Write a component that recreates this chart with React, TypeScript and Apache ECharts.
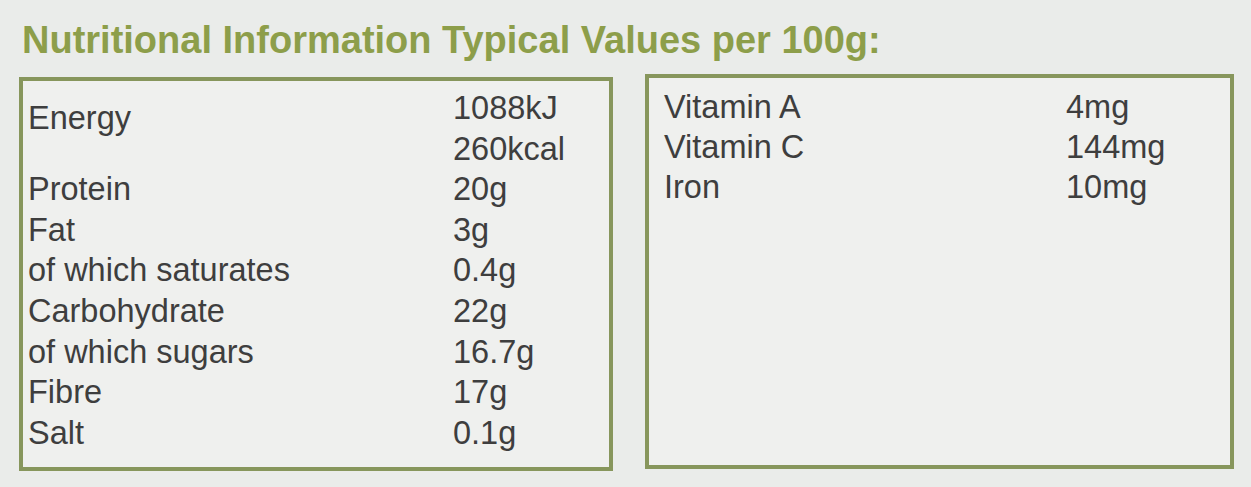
import React, { useEffect, useRef } from "react";
import * as echarts from "echarts";

const titleText = "Nutritional Information Typical Values per 100g:";
const leftLabels = ["Energy", "", "Protein", "Fat", "of which saturates", "Carbohydrate", "of which sugars", "Fibre", "Salt"];
const leftValues = ["1088kJ", "260kcal", "20g", "3g", "0.4g", "22g", "16.7g", "17g", "0.1g"];
const rightLabels = ["Vitamin A", "Vitamin C", "Iron"];
const rightValues = ["4mg", "144mg", "10mg"];

const FONT = '"Liberation Sans", Arial, Helvetica, sans-serif';
const TEXT_COLOR = "#3e3e3e";
const GREEN = "#8d9e4a";
const BORDER = "#87965c";
const SIZE = 32.5;

export default function App() {
  const ref = useRef<HTMLDivElement>(null);
  useEffect(() => {
    if (!ref.current) return;
    const chart = echarts.init(ref.current, null, { renderer: "svg" });
    const elements: any[] = [];

    elements.push({
      type: "text",
      x: 22,
      y: 40,
      style: {
        text: titleText,
        font: `bold 38px ${FONT}`,
        fill: GREEN,
        textVerticalAlign: "middle",
      },
    });

    // boxes
    elements.push({
      type: "rect",
      shape: { x: 21, y: 79, width: 590, height: 390 },
      style: { fill: "#eff0ee", stroke: BORDER, lineWidth: 4 },
    });
    elements.push({
      type: "rect",
      shape: { x: 647, y: 76, width: 585, height: 391 },
      style: { fill: "#eff0ee", stroke: BORDER, lineWidth: 4 },
    });

    const textStyle = (t: string) => ({
      text: t,
      font: `${SIZE}px ${FONT}`,
      fill: TEXT_COLOR,
      textVerticalAlign: "middle",
    });

    const leftStart = 108;
    const leftStep = 40.6;
    leftValues.forEach((v, i) => {
      const y = leftStart + i * leftStep;
      const lbl = leftLabels[i];
      if (lbl) {
        elements.push({ type: "text", x: 28, y: i === 0 ? y + 10 : y, style: textStyle(lbl) });
      }
      elements.push({ type: "text", x: 453, y, style: textStyle(v) });
    });

    const rightStart = 107;
    const rightStep = 40;
    rightLabels.forEach((lbl, i) => {
      const y = rightStart + i * rightStep;
      elements.push({ type: "text", x: 664, y, style: textStyle(lbl) });
      elements.push({ type: "text", x: 1066, y, style: textStyle(rightValues[i]) });
    });

    chart.setOption({
      animation: false,
      backgroundColor: "#eaecea",
      graphic: { elements },
    });
    return () => chart.dispose();
  }, []);
  return (
    <div
      ref={ref}
      style={{ position: "fixed", left: 0, top: 0, width: 1251, height: 487 }}
    />
  );
}
